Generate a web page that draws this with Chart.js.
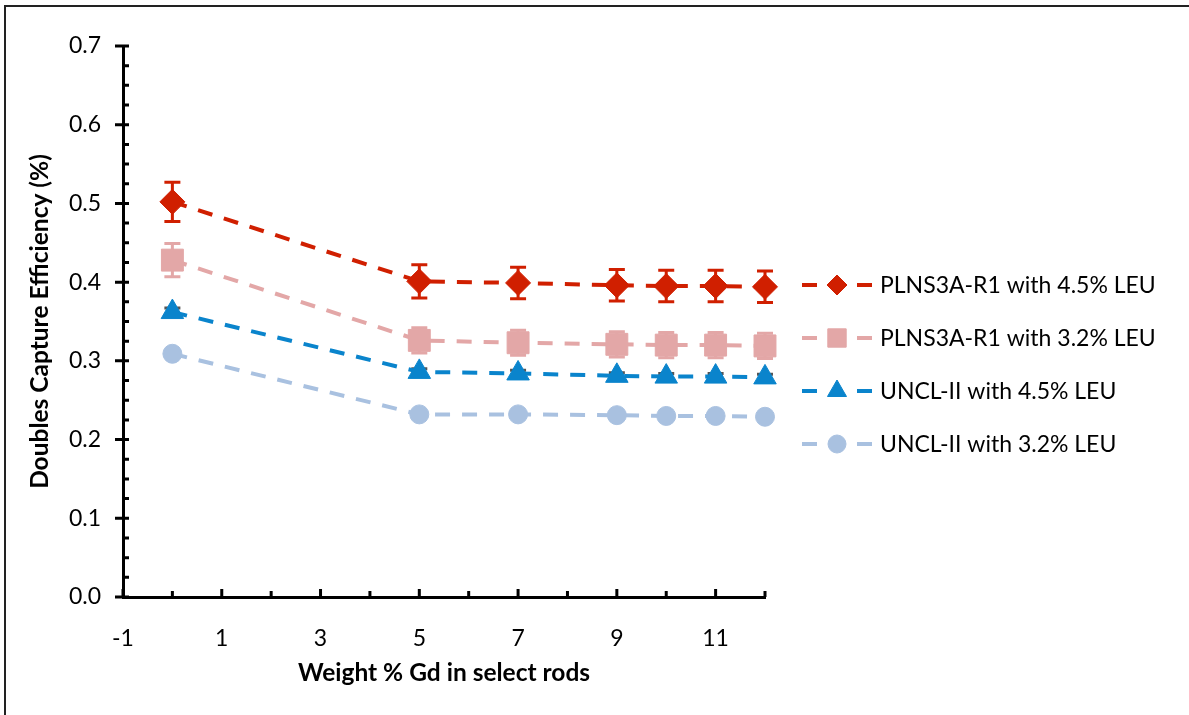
<!DOCTYPE html>
<html>
<head>
<meta charset="utf-8">
<script src="https://cdn.jsdelivr.net/npm/chart.js@4.4.1/dist/chart.umd.min.js"></script>
<style>
  html, body { margin: 0; padding: 0; background: #fff; }
  #wrap { position: relative; width: 1189px; height: 715px; }
</style>
</head>
<body>
<div id="wrap"><canvas id="grafico" width="1189" height="715"></canvas></div>
<script>
// Dados
const pesoGd = [0, 5, 7, 9, 10, 11, 12];
const xTicks = [-1, 1, 3, 5, 7, 9, 11];
const yTicks = [0, 0.1, 0.2, 0.3, 0.4, 0.5, 0.6, 0.7];

const nomes = [
  "PLNS3A-R1 with 4.5% LEU",
  "PLNS3A-R1 with 3.2% LEU",
  "UNCL-II with 4.5% LEU",
  "UNCL-II with 3.2% LEU"
];

const plns45 = [0.502, 0.401, 0.399, 0.396, 0.395, 0.395, 0.394];
const plns32 = [0.428, 0.326, 0.323, 0.321, 0.320, 0.320, 0.319];
const uncl45 = [0.362, 0.286, 0.284, 0.281, 0.280, 0.280, 0.279];
const uncl32 = [0.309, 0.232, 0.232, 0.231, 0.230, 0.230, 0.229];

// barras de erro (±)
const erroPlns45 = [0.025, 0.021, 0.020, 0.020, 0.020, 0.020, 0.020];
const erroPlns32 = [0.021, 0.016, 0.016, 0.016, 0.016, 0.016, 0.016];
const erroUncl45 = [0.005, 0.004, 0.004, 0.004, 0.004, 0.004, 0.004];

const fonte = "Lato, 'Open Sans', sans-serif";

function serie(nome, valores, erros, cor, corErro, estilo, raio, raioLeg) {
  return {
    label: nome,
    data: pesoGd.map((x, i) => ({ x: x, y: valores[i] })),
    erros: erros,
    corErro: corErro,
    raioLegenda: raioLeg,
    borderColor: cor,
    backgroundColor: cor,
    borderWidth: 4,
    borderDash: [15, 12],
    pointStyle: estilo,
    pointRadius: raio,
    pointHoverRadius: raio,
    pointBorderWidth: 1,
    pointBackgroundColor: cor,
    pointBorderColor: cor,
    fill: false,
    clip: false,
    tension: 0
  };
}

// Barras de erro desenhadas a partir das escalas (por baixo dos marcadores)
const barrasErro = {
  id: "barrasErro",
  beforeDatasetsDraw(chart) {
    const ctx = chart.ctx;
    const sx = chart.scales.x, sy = chart.scales.y;
    chart.data.datasets.forEach(ds => {
      if (!ds.erros) return;
      ctx.save();
      ctx.strokeStyle = ds.corErro;
      ctx.lineWidth = 3;
      ctx.setLineDash([]);
      ds.data.forEach((p, i) => {
        const e = ds.erros[i];
        const x = sx.getPixelForValue(p.x);
        const y1 = sy.getPixelForValue(p.y + e);
        const y2 = sy.getPixelForValue(p.y - e);
        ctx.beginPath();
        ctx.moveTo(x, y1); ctx.lineTo(x, y2);
        ctx.moveTo(x - 8, y1); ctx.lineTo(x + 8, y1);
        ctx.moveTo(x - 8, y2); ctx.lineTo(x + 8, y2);
        ctx.stroke();
      });
      ctx.restore();
    });
  }
};

// Marcas dos eixos (estilo Excel), legenda e moldura
const extras = {
  id: "extras",
  afterDraw(chart) {
    const ctx = chart.ctx;
    const sx = chart.scales.x, sy = chart.scales.y;
    const ax = sx.getPixelForValue(-1);
    const ay = sy.getPixelForValue(0);
    ctx.save();
    ctx.strokeStyle = "#000";
    ctx.lineWidth = 3;
    ctx.setLineDash([]);
    ctx.beginPath();
    // eixo y: principais cruzam, secundárias para dentro
    for (let v = 0; v <= 0.7001; v += 0.025) {
      const y = sy.getPixelForValue(v);
      const principal = Math.abs(v * 10 - Math.round(v * 10)) < 1e-6;
      ctx.moveTo(principal ? ax - 8 : ax, y);
      ctx.lineTo(ax + 6, y);
    }
    // eixo x
    for (let v = -1; v <= 12; v++) {
      const x = sx.getPixelForValue(v);
      const principal = (v + 1) % 2 === 0;
      ctx.moveTo(x, ay);
      ctx.lineTo(x, ay - (principal ? 8 : 6));
    }
    ctx.stroke();

    // moldura
    ctx.lineWidth = 2;
    ctx.strokeStyle = "#222";
    ctx.beginPath();
    ctx.moveTo(5, 715); ctx.lineTo(5, 6); ctx.lineTo(1189, 6);
    ctx.stroke();

    // legenda
    const y0 = 285, passo = 53;
    chart.data.datasets.forEach((ds, i) => {
      const y = y0 + i * passo;
      ctx.strokeStyle = ds.borderColor;
      ctx.lineWidth = 4;
      ctx.beginPath();
      ctx.moveTo(802, y); ctx.lineTo(817, y);
      ctx.moveTo(857, y); ctx.lineTo(872, y);
      ctx.stroke();
      ctx.fillStyle = ds.pointBackgroundColor;
      ctx.strokeStyle = ds.pointBorderColor;
      ctx.lineWidth = 1;
      Chart.helpers.drawPoint(ctx, { pointStyle: ds.pointStyle, radius: ds.raioLegenda, borderWidth: 1 }, 837, y);
      ctx.fillStyle = "#000";
      ctx.font = "23px " + fonte;
      ctx.textBaseline = "middle";
      ctx.textAlign = "left";
      ctx.fillText(ds.label, 880, y + 1);
    });
    ctx.restore();
  }
};

new Chart(document.getElementById("grafico"), {
  type: "line",
  data: {
    datasets: [
      serie(nomes[0], plns45, erroPlns45, "#D01F00", "#D01F00", "rectRot", 12.5, 10),
      serie(nomes[1], plns32, erroPlns32, "#E3A7A7", "#E3A7A7", "rect", 15.5, 13),
      serie(nomes[2], uncl45, erroUncl45, "#0A84CC", "#555", "triangle", 13, 11),
      serie(nomes[3], uncl32, null, "#A9C1E0", null, "circle", 9.5, 9)
    ]
  },
  options: {
    responsive: false,
    animation: false,
    layout: { padding: { left: 0, top: 46, right: 424, bottom: 0 } },
    plugins: {
      legend: { display: false },
      tooltip: { enabled: false }
    },
    scales: {
      x: {
        type: "linear",
        min: -1,
        max: 12,
        afterBuildTicks: s => { s.ticks = xTicks.map(v => ({ value: v })); },
        afterFit: s => { s.height = 118; },
        grid: { display: false, drawTicks: false },
        border: { display: true, color: "#000", width: 3 },
        ticks: { color: "#000", font: { family: fonte, size: 23 }, padding: 28, maxRotation: 0 },
        title: {
          display: true,
          text: "Weight % Gd in select rods",
          color: "#000",
          font: { family: fonte, size: 24.5, weight: "bold" },
          padding: { top: 0, bottom: 27 }
        }
      },
      y: {
        min: 0,
        max: 0.7,
        afterBuildTicks: s => { s.ticks = yTicks.map(v => ({ value: v })); },
        afterFit: s => { s.width = 123; },
        grid: { display: false, drawTicks: false },
        border: { display: true, color: "#000", width: 3 },
        ticks: {
          color: "#000",
          font: { family: fonte, size: 23 },
          padding: 22,
          callback: v => v.toFixed(1)
        },
        title: {
          display: true,
          text: "Doubles Capture Efficiency (%)",
          color: "#000",
          font: { family: fonte, size: 24.5, weight: "bold" },
          padding: { top: 25, bottom: 0 }
        }
      }
    }
  },
  plugins: [barrasErro, extras]
});
</script>
</body>
</html>
